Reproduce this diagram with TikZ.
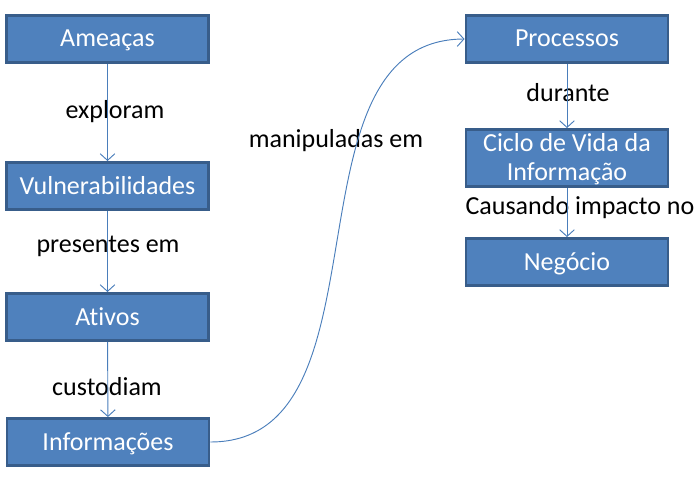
\documentclass[tikz,border=0pt]{standalone}
\usepackage{fontspec}
\setmainfont[Ligatures=NoCommon]{Carlito}
\usetikzlibrary{arrows.meta}
\usetikzlibrary{positioning}
\definecolor{boxfill}{HTML}{4F81BD}
\definecolor{boxline}{HTML}{385D8A}
\definecolor{linkline}{HTML}{4A7EBB}
\tikzstyle{relation} = [draw=linkline, line width=0.7pt, -{Straight Barb[length=5pt,width=11pt]}]
\tikzstyle{linklabel} = [font=\fontsize{19.5pt}{21.75pt}\selectfont, text=black, inner sep=0pt]

\begin{document}
\begin{tikzpicture}[x=0.75pt, y=-0.75pt,
                      main node/.style={rectangle, fill=boxfill, draw=boxline, line width=2.2pt,
                                        minimum width=151.5pt, minimum height=35.25pt,
                                        text=white, align=center, inner sep=0pt,
                                        text height=12pt, text depth=0pt,
                                        font=\fontsize{19.5pt}{21.75pt}\selectfont},
                      tall node/.style={main node, minimum height=42.75pt, text height=33.75pt}]
  \useasboundingbox (0,0) rectangle (696,478);

        \node[main node] (1) at (107.5,39) {Ameaças};
        \node[main node] (2) at (107.5,186) {Vulnerabilidades};
        \node[main node] (3) at (107.5,317) {Ativos};
        \node[main node] (4) at (108,442) {Informações};

        \node[main node] (5) at (567,39) {Processos};
        \node[tall node] (6) at (567,158) {Ciclo de Vida da\\Informação};
        \node[main node] (7) at (567,262) {Negócio};

        \node[linklabel] (l1) at (115,112) {exploram};
        \node[linklabel] (l2) at (108,246) {presentes em};
        \node[linklabel] (l3) at (107,387) {custodiam};
        \node[linklabel] (l4) at (336,141) {manipuladas em};
        \node[linklabel] (l5) at (568,93) {durante};
        \node[linklabel] (l6) at (580,208) {Causando impacto no};

        \path[relation]
        (1) edge (2)
        (2) edge (3)
        (3) edge (4)

        (5) edge (6)
        (6) edge (7)
        ;

        \draw[relation] (4.east) .. controls (396,442) and (278,40) .. (5.west);
    \end{tikzpicture}
\end{document}
